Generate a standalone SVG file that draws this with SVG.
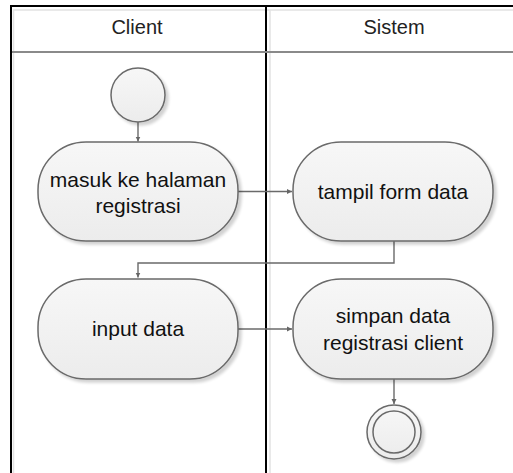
<svg xmlns="http://www.w3.org/2000/svg" width="513" height="473" viewBox="0 0 513 473">
  <defs>
    <linearGradient id="nodeFill" x1="0" y1="0" x2="0" y2="1">
      <stop offset="0" stop-color="#f7f7f7"/>
      <stop offset="1" stop-color="#ececec"/>
    </linearGradient>
    <filter id="shadow" x="-20%" y="-20%" width="150%" height="150%">
      <feGaussianBlur in="SourceAlpha" stdDeviation="1.5"/>
      <feOffset dx="2.5" dy="2.5" result="off"/>
      <feComponentTransfer><feFuncA type="linear" slope="0.18"/></feComponentTransfer>
      <feMerge><feMergeNode/><feMergeNode in="SourceGraphic"/></feMerge>
    </filter>
    <marker id="arrow" markerWidth="6" markerHeight="6" refX="5" refY="3" orient="auto" markerUnits="userSpaceOnUse">
      <path d="M0,0.5 L5,3 L0,5.5 Z" fill="#666"/>
    </marker>
    <style>
      .lane-outer { stroke: #000; stroke-width: 2; fill: none; }
      .lane-inner { stroke: #e2e2e2; stroke-width: 1.5; fill: none; }
      .lane-sep { stroke: #8a8a8a; stroke-width: 2; }
      .hdr { font-family: "Liberation Sans", Arial, sans-serif; font-size: 20px; fill: #222; text-anchor: middle; }
      .node { fill: url(#nodeFill); stroke: #6a6a6a; stroke-width: 1.5; filter: url(#shadow); }
      .lbl { font-family: "Liberation Sans", Arial, sans-serif; font-size: 21px; fill: #111; text-anchor: middle; }
      .conn { fill: none; stroke: #6a6a6a; stroke-width: 1.4; marker-end: url(#arrow); }
    </style>
  </defs>

  <rect width="513" height="473" fill="#fff"/>

  <!-- swimlanes -->
  <g id="lanes">
    <line class="lane-inner" x1="13" y1="10" x2="513" y2="10"/>
    <line class="lane-inner" x1="13.5" y1="10" x2="13.5" y2="473"/>
    <line class="lane-inner" x1="270" y1="10" x2="270" y2="473"/>
    <path class="lane-outer" d="M11,473 V6 H513"/>
    <line class="lane-outer" x1="266" y1="6" x2="266" y2="473"/>
    <line class="lane-sep" x1="12" y1="52" x2="513" y2="52"/>
    <text class="hdr" x="137" y="34">Client</text>
    <text class="hdr" x="394" y="34">Sistem</text>
  </g>

  <!-- connectors -->
  <g id="connectors">
    <path class="conn" d="M138,122 V141.5"/>
    <path class="conn" d="M238,191.5 H292"/>
    <path class="conn" d="M394,241 V263 H138 V277.5"/>
    <path class="conn" d="M238,329 H292"/>
    <path class="conn" d="M394,379 V404"/>
  </g>

  <g id="start">
    <circle class="node" cx="138" cy="95" r="27"/>
  </g>

  <g id="masuk-registrasi">
    <rect class="node" x="38" y="142" width="200" height="99" rx="48" ry="48"/>
    <text class="lbl" x="138" y="187">masuk ke halaman</text>
    <text class="lbl" x="138" y="213">registrasi</text>
  </g>

  <g id="tampil-form">
    <rect class="node" x="293" y="142" width="200" height="99" rx="48" ry="48"/>
    <text class="lbl" x="393" y="199">tampil form data</text>
  </g>

  <g id="input-data">
    <rect class="node" x="38" y="279" width="200" height="100" rx="48" ry="48"/>
    <text class="lbl" x="138" y="336">input data</text>
  </g>

  <g id="simpan-data">
    <rect class="node" x="293" y="279" width="200" height="100" rx="48" ry="48"/>
    <text class="lbl" x="393" y="323">simpan data</text>
    <text class="lbl" x="393" y="350">registrasi client</text>
  </g>

  <g id="end">
    <circle class="node" cx="394" cy="432" r="27"/>
    <circle cx="394" cy="432" r="21" fill="none" stroke="#6a6a6a" stroke-width="1.5"/>
  </g>
</svg>
